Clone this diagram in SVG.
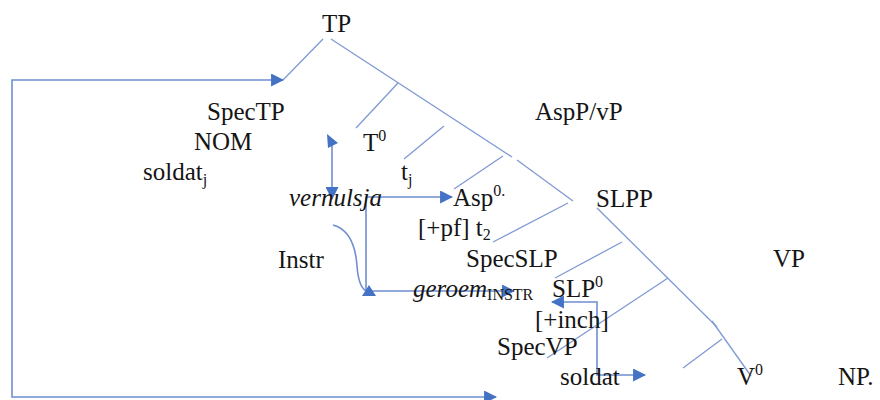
<svg xmlns="http://www.w3.org/2000/svg" width="880" height="400" viewBox="0 0 880 400">
  <style>
    .lbl { font-family: "Liberation Serif", "Times New Roman", serif; font-size: 25px; fill: #151515; }
    .it { font-style: italic; }
    .sup { font-size: 16px; }
    .br { stroke: #7f9ad3; stroke-width: 1.3; fill: none; }
    .mv { stroke: #6f8fd0; stroke-width: 1.6; fill: none; }
    .head { fill: #4472c4; }
  </style>
  <defs>
    <marker id="arrow" markerUnits="userSpaceOnUse" markerWidth="13" markerHeight="13" viewBox="0 0 12 12" refX="11" refY="6" orient="auto-start-reverse">
      <path d="M0 0 L12 6 L0 12 z" fill="#4472c4"/>
    </marker>
  </defs>
  <rect width="880" height="400" fill="#ffffff"/>

  <!-- tree branches -->
  <g id="branches">
    <line class="br" x1="323" y1="39" x2="283" y2="80"/>
    <line class="br" x1="331" y1="39" x2="512" y2="157"/>
    <line class="br" x1="517" y1="160" x2="573" y2="201"/>
    <line class="br" x1="398" y1="83" x2="356" y2="128"/>
    <line class="br" x1="444" y1="126" x2="404" y2="159"/>
    <line class="br" x1="503" y1="156" x2="454" y2="189"/>
    <line class="br" x1="568" y1="203" x2="493" y2="242"/>
    <line class="br" x1="597" y1="208" x2="717" y2="327"/>
    <line class="br" x1="712" y1="321" x2="751" y2="376"/>
    <line class="br" x1="622" y1="242" x2="555" y2="278"/>
    <line class="br" x1="668" y1="278" x2="547" y2="358"/>
    <line class="br" x1="722" y1="339" x2="683" y2="368"/>
  </g>

  <!-- movement arrows -->
  <g id="connectors">
    <path class="mv" d="M283 80 H12 V397 H496" marker-start="url(#arrow)" marker-end="url(#arrow)"/>
    <path class="mv" d="M332 144 V199" marker-end="url(#arrow)"/>
    <polygon class="head" points="327,134 338,143 328,148"/>
    <path class="mv" d="M452 197 H366 V291 H514" marker-start="url(#arrow)" marker-end="url(#arrow)"/>
    <path class="mv" d="M333 225 C352 230 356 252 357 266 C358 280 361 288 366 291"/>
    <polygon class="head" points="369,285 376,296 362,296"/>
    <path class="mv" d="M552 302 H597 V375 H645" marker-start="url(#arrow)" marker-end="url(#arrow)"/>
  </g>

  <!-- nodes -->
  <g id="n-tp"><text class="lbl" x="322" y="32">TP</text></g>
  <g id="n-spectp"><text class="lbl" x="207" y="120">SpecTP</text></g>
  <g id="n-nom"><text class="lbl" x="194" y="150">NOM</text></g>
  <g id="n-soldat-j"><text class="lbl" x="143" y="180">soldat<tspan class="sup" dy="5">j</tspan></text></g>
  <g id="n-t0"><text class="lbl" x="363" y="151">T<tspan class="sup" dy="-10">0</tspan></text></g>
  <g id="n-tj"><text class="lbl" x="401" y="180">t<tspan class="sup" dy="5">j</tspan></text></g>
  <g id="n-aspp"><text class="lbl" x="535" y="120">AspP/vP</text></g>
  <g id="n-vernulsja"><text class="lbl it" x="289" y="206">vernulsja</text></g>
  <g id="n-asp0"><text class="lbl" x="453" y="206">Asp<tspan class="sup" dy="-10">0.</tspan></text></g>
  <g id="n-slpp"><text class="lbl" x="596" y="207">SLPP</text></g>
  <g id="n-pf"><text class="lbl" x="418" y="236">[+pf] t<tspan class="sup" dy="4">2</tspan></text></g>
  <g id="n-instr"><text class="lbl" x="278" y="268">Instr</text></g>
  <g id="n-specslp"><text class="lbl" x="466" y="267">SpecSLP</text></g>
  <g id="n-vp"><text class="lbl" x="773" y="267">VP</text></g>
  <g id="n-geroem"><text class="lbl" x="413" y="297"><tspan class="it">geroem</tspan><tspan class="sup" dy="3">INSTR</tspan></text></g>
  <g id="n-slp0"><text class="lbl" x="552" y="297">SLP<tspan class="sup" dy="-10">0</tspan></text></g>
  <g id="n-inch"><text class="lbl" x="535" y="328">[+inch]</text></g>
  <g id="n-specvp"><text class="lbl" x="497" y="355">SpecVP</text></g>
  <g id="n-soldat"><text class="lbl" x="560" y="385">soldat</text></g>
  <g id="n-v0"><text class="lbl" x="737" y="385">V<tspan class="sup" dy="-10">0</tspan></text></g>
  <g id="n-np"><text class="lbl" x="838" y="385">NP.</text></g>
</svg>
